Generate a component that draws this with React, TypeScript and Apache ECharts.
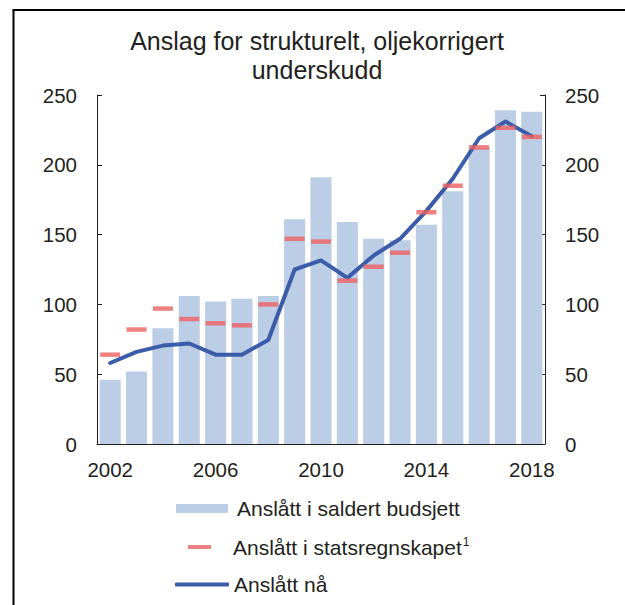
import React, { useEffect, useRef } from "react";
import * as echarts from "echarts";

const years = ["2002","2003","2004","2005","2006","2007","2008","2009","2010","2011","2012","2013","2014","2015","2016","2017","2018"];
const budgetValues = [46, 52, 83, 106, 102, 104, 106, 161, 191, 159, 147, 146, 157, 181, 212, 239, 238];
const accountsValues = [64, 82, 97, 89.5, 86.5, 85, 100, 147, 145, 117, 127, 137, 166, 185, 212.5, 226.5, 220];
const nowValues = [58, 66, 70.5, 72, 64, 64, 74.5, 125, 131.5, 119, 135, 147, 167, 190, 219, 231, 220.5];
const yTicks = { min: 0, max: 250, interval: 50 };

const titleLine1 = "Anslag for strukturelt, oljekorrigert";
const titleLine2 = "underskudd";
const nameBudget = "Anslått i saldert budsjett";
const nameAccounts = "Anslått i statsregnskapet";
const nameNow = "Anslått nå";

const FONT = "'Liberation Sans', Arial, Helvetica, sans-serif";
const TEXT = "#231f20";
const BAR = "#bccde6";
const RED = "#ee6262";
const BLUE = "#3a5ca9";

export default function App() {
  const ref = useRef<HTMLDivElement>(null);
  useEffect(() => {
    if (!ref.current) return;
    const chart = echarts.init(ref.current, null, { renderer: "svg" });
    const yAxisBase = {
      type: "value",
      min: yTicks.min,
      max: yTicks.max,
      interval: yTicks.interval,
      splitLine: { show: false },
      axisLine: { show: true, lineStyle: { color: TEXT, width: 1 } },
      axisTick: { show: true, inside: true, length: 5, lineStyle: { color: TEXT } },
      axisLabel: { fontSize: 20.5, color: TEXT, fontFamily: FONT, margin: 20 },
    };
    const titleStyle = { fontSize: 25, lineHeight: 25, fontWeight: "normal", color: TEXT, fontFamily: FONT };
    chart.setOption({
      animation: false,
      textStyle: { fontFamily: FONT },
      title: [
        { text: titleLine1, left: 317, top: 28.5, padding: 0, textAlign: "center", textStyle: titleStyle },
        { text: titleLine2, left: 317, top: 57, padding: 0, textAlign: "center", textStyle: titleStyle },
      ],
      grid: { left: 97, right: 80, top: 95, bottom: 161, containLabel: false },
      xAxis: {
        type: "category",
        data: years,
        axisLine: { show: true, lineStyle: { color: TEXT, width: 1 } },
        axisTick: { show: false },
        axisLabel: { interval: 3, fontSize: 20.5, color: TEXT, fontFamily: FONT, margin: 15 },
      },
      yAxis: [
        { ...yAxisBase, position: "left" },
        { ...yAxisBase, position: "right" },
      ],
      legend: [
        {
          data: [{ name: nameBudget, icon: "rect" }],
          left: 176,
          top: 498,
          padding: 0,
          itemWidth: 52,
          itemHeight: 9,
          formatter: (n: string) => "{pad|}{t|" + n + "}",
          textStyle: {
            color: TEXT,
            fontFamily: FONT,
            rich: { pad: { width: 4 }, t: { fontSize: 21, color: TEXT, fontFamily: FONT } },
          },
        },
        {
          data: [{ name: nameAccounts, icon: "rect" }],
          left: 188,
          top: 536,
          padding: 0,
          itemWidth: 23,
          itemHeight: 4,
          formatter: (n: string) => "{pad|}{t|" + n + "}{sup|1}",
          textStyle: {
            color: TEXT,
            fontFamily: FONT,
            rich: {
              pad: { width: 17 },
              t: { fontSize: 21, color: TEXT, fontFamily: FONT },
              sup: { fontSize: 12, color: TEXT, fontFamily: FONT, verticalAlign: "top", padding: [0, 0, 10, 1] },
            },
          },
        },
        {
          data: [{ name: nameNow, icon: "roundRect" }],
          left: 175,
          top: 574,
          padding: 0,
          itemWidth: 54,
          itemHeight: 4,
          formatter: (n: string) => "{t|" + n + "}",
          textStyle: {
            color: TEXT,
            fontFamily: FONT,
            rich: { t: { fontSize: 21, color: TEXT, fontFamily: FONT } },
          },
        },
      ],
      graphic: [
        { type: "line", shape: { x1: 13.5, y1: 10, x2: 13.5, y2: 605 }, style: { stroke: "#000", lineWidth: 2 } },
        { type: "line", shape: { x1: 12.5, y1: 10, x2: 625, y2: 10 }, style: { stroke: "#000", lineWidth: 2 } },
      ],
      series: [
        {
          name: nameBudget,
          type: "bar",
          data: budgetValues,
          barCategoryGap: "20%",
          itemStyle: { color: BAR },
          z: 1,
        },
        {
          name: nameNow,
          type: "line",
          data: nowValues,
          showSymbol: false,
          symbol: "none",
          lineStyle: { color: BLUE, width: 4, cap: "round", join: "round" },
          itemStyle: { color: BLUE },
          z: 2,
        },
        {
          name: nameAccounts,
          type: "scatter",
          data: accountsValues,
          symbol: "rect",
          symbolSize: [20, 4.5],
          itemStyle: { color: RED },
          z: 3,
        },
      ],
    });
    return () => chart.dispose();
  }, []);
  return (
    <div
      ref={ref}
      style={{ position: "fixed", left: 0, top: 0, width: 625, height: 605, background: "#fff" }}
    />
  );
}
